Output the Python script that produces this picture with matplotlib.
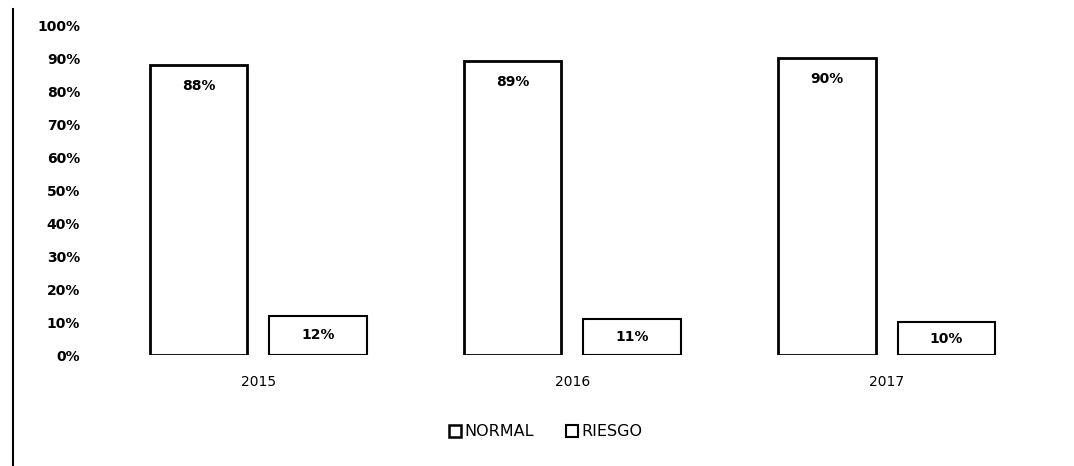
import numpy as np
import matplotlib
matplotlib.use("Agg")
import matplotlib.pyplot as plt
from matplotlib.lines import Line2D


years = ["2015", "2016", "2017"]
normal = [0.88, 0.89, 0.90]
riesgo = [0.12, 0.11, 0.10]
normal_labels = ["88%", "89%", "90%"]
riesgo_labels = ["12%", "11%", "10%"]
yticks = [0.0, 0.1, 0.2, 0.3, 0.4, 0.5, 0.6, 0.7, 0.8, 0.9, 1.0]

plt.rcParams["font.family"] = ["DejaVu Sans"]

fig = plt.figure(figsize=(10.74, 4.66), dpi=100)
ax = fig.add_axes([0.094, 0.238, 0.878, 0.708])

x = np.arange(len(years))
width = 0.31
offset = 0.19

bars_n = ax.bar(x - offset, normal, width, color="white", edgecolor="black", linewidth=2)
bars_r = ax.bar(x + offset, riesgo, width, color="white", edgecolor="black", linewidth=1.5)

for bar, lab in zip(bars_n, normal_labels):
    ax.annotate(lab, (bar.get_x() + bar.get_width() / 2, bar.get_height()),
                xytext=(0, -15), textcoords="offset points", ha="center", va="center",
                fontsize=10, fontweight="bold")

for bar, lab in zip(bars_r, riesgo_labels):
    ax.text(bar.get_x() + bar.get_width() / 2, bar.get_height() / 2, lab,
            ha="center", va="center", fontsize=10, fontweight="bold")

ax.set_xlim(-0.5, 2.5)
ax.set_ylim(0, 1.0)
ax.set_xticks(x)
ax.set_xticklabels(years, fontsize=10)
ax.set_yticks(yticks)
ax.set_yticklabels([f"{int(round(t * 100))}%" for t in yticks], fontsize=10, fontweight="bold")
ax.tick_params(axis="both", length=0)
ax.tick_params(axis="y", pad=15)
ax.tick_params(axis="x", pad=14)
for s in ax.spines.values():
    s.set_visible(False)

handles = [
    Line2D([0], [0], marker="s", linestyle="none", markersize=8,
           markerfacecolor="white", markeredgecolor="black", markeredgewidth=1.8),
    Line2D([0], [0], marker="s", linestyle="none", markersize=8,
           markerfacecolor="white", markeredgecolor="black", markeredgewidth=1.5),
]
fig.legend(handles, ["NORMAL", "RIESGO"], loc="center", bbox_to_anchor=(0.508, 0.073),
           ncol=2, frameon=False, fontsize=11.5, handlelength=0.8, handletextpad=0.2,
           columnspacing=2.0)

# scanned page border on the left
fig.add_artist(Line2D([0.012, 0.012], [0.0, 0.98], color="black", linewidth=1.5,
                      transform=fig.transFigure))

fig.savefig("out.png", dpi=100)
